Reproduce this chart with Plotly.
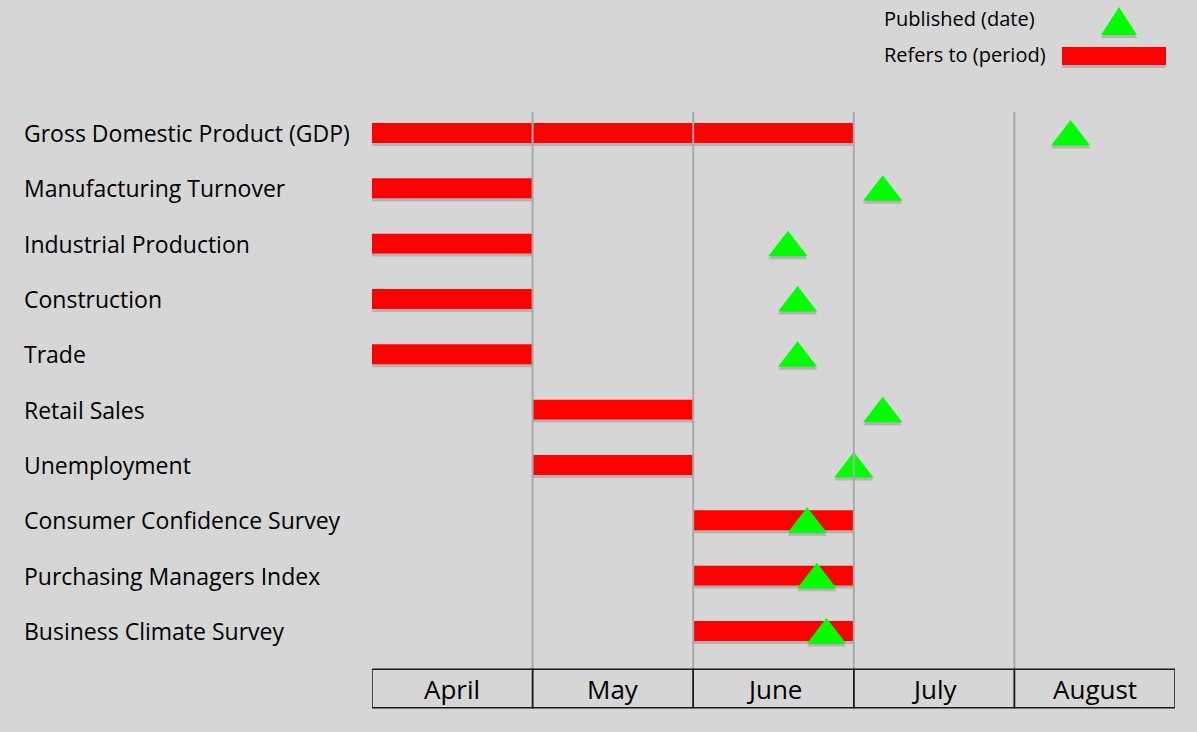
import plotly.graph_objects as go

# ---- data ----
indicators = [
    "Gross Domestic Product (GDP)",
    "Manufacturing Turnover",
    "Industrial Production",
    "Construction",
    "Trade",
    "Retail Sales",
    "Unemployment",
    "Consumer Confidence Survey",
    "Purchasing Managers Index",
    "Business Climate Survey",
]
months = ["April", "May", "June", "July", "August"]
# reference period, in month units (0 = start of April)
period_start = [0, 0, 0, 0, 0, 1, 1, 2, 2, 2]
period_end = [3, 1, 1, 1, 1, 2, 2, 3, 3, 3]
# publication date, in month units (0 = start of April)
published = [4.35, 3.18, 2.59, 2.65, 2.65, 3.18, 3.0, 2.71, 2.77, 2.83]

# ---- layout geometry ----
W, HGT = 1197, 732
ML, MR, MT, MB = 372, 22, 112, 23
PH = HGT - MT - MB  # plot height in px
PW = W - ML - MR
ROW_PX = 55.33
TOP_OFF = 21 / ROW_PX
AX_LEN = PH - 8
RNG = [-TOP_OFF + AX_LEN / ROW_PX, -TOP_OFF]

BG = "#d6d6d6"
RED = "#ff0000"
GREEN = "#00ff00"
SHADOW = "rgba(0,0,0,0.16)"
FONT = "Open Sans"

def dom(shift):
    # vertical domain of a stacked axis moved down by `shift` px
    return [(8 - shift) / PH, 1 - shift / PH]

lengths = [e - s for s, e in zip(period_start, period_end)]

fig = go.Figure()
# bar shadows
fig.add_trace(go.Bar(y=indicators, x=lengths, base=period_start, orientation="h",
                     width=0.36, marker=dict(color=SHADOW, line=dict(width=0)),
                     yaxis="y", xaxis="x", hoverinfo="skip", showlegend=False))
# bars
fig.add_trace(go.Bar(y=indicators, x=lengths, base=period_start, orientation="h",
                     width=0.36, marker=dict(color=RED, line=dict(width=0)),
                     yaxis="y2", xaxis="x", name="Refers to (period)", showlegend=False))
# triangle shadows
fig.add_trace(go.Scatter(y=indicators, x=published, mode="markers",
                         marker=dict(symbol="triangle-up", size=34, color=SHADOW, line=dict(width=0)),
                         yaxis="y3", xaxis="x", hoverinfo="skip", showlegend=False))
# triangles
fig.add_trace(go.Scatter(y=indicators, x=published, mode="markers",
                         marker=dict(symbol="triangle-up", size=34, color=GREEN, line=dict(width=0)),
                         yaxis="y4", xaxis="x", name="Published (date)", showlegend=False))

yax_common = dict(type="category", categoryorder="array", categoryarray=indicators,
                  range=RNG, showgrid=False, zeroline=False, showticklabels=False,
                  showline=False, ticks="", fixedrange=True, anchor="x")

shapes = []
# vertical gridlines
grid_bottom = (PH - (669.3 - MT)) / PH
for i in range(1, len(months)):
    shapes.append(dict(type="line", xref="x", yref="paper", x0=i, x1=i,
                       y0=grid_bottom, y1=1, line=dict(color="#a9a9a9", width=2), layer="above"))
# month boxes
annotations = []
for i, m in enumerate(months):
    shapes.append(dict(type="rect", xref="x", yref="paper", x0=i, x1=i + 1,
                       y0=0.002, y1=grid_bottom, line=dict(color="#1a1a1a", width=1.5),
                       fillcolor="rgba(0,0,0,0)"))
    annotations.append(dict(text=m, xref="x", yref="paper", x=i + 0.5,
                            y=(grid_bottom + 0.002) / 2, showarrow=False,
                            xanchor="center", yanchor="middle",
                            font=dict(family=FONT, size=26, color="#000")))

# row labels
for name in indicators:
    annotations.append(dict(text=name, xref="paper", yref="y2", x=(22 - ML) / PW, y=name,
                            xanchor="left", yanchor="middle", showarrow=False,
                            font=dict(family=FONT, size=23, color="#000")))

# legend (pixel positions converted to paper coords)
def px(xp):
    return (xp - ML) / PW

def py(yp):
    return (MT + PH - yp) / PH

annotations.append(dict(text="Published (date)", xref="paper", yref="paper", x=px(882), y=py(18),
                        xanchor="left", yanchor="middle", showarrow=False,
                        font=dict(family=FONT, size=20, color="#000")))
annotations.append(dict(text="Refers to (period)", xref="paper", yref="paper", x=px(882), y=py(55),
                        xanchor="left", yanchor="middle", showarrow=False,
                        font=dict(family=FONT, size=20, color="#000")))
# legend shadows
shapes.append(dict(type="path", xref="paper", yref="paper",
                   path=f"M {px(1101)} {py(38)} L {px(1137)} {py(38)} L {px(1119)} {py(10)} Z",
                   fillcolor=SHADOW, line=dict(width=0)))
shapes.append(dict(type="rect", xref="paper", yref="paper", x0=px(1062), x1=px(1166),
                   y0=py(68), y1=py(50), fillcolor=SHADOW, line=dict(width=0)))
shapes.append(dict(type="path", xref="paper", yref="paper",
                   path=f"M {px(1101)} {py(35)} L {px(1137)} {py(35)} L {px(1119)} {py(7)} Z",
                   fillcolor=GREEN, line=dict(width=0)))
shapes.append(dict(type="rect", xref="paper", yref="paper", x0=px(1062), x1=px(1166),
                   y0=py(65), y1=py(47), fillcolor=RED, line=dict(width=0)))

fig.update_layout(
    width=W, height=HGT,
    margin=dict(l=ML, r=MR, t=MT, b=MB),
    paper_bgcolor=BG, plot_bgcolor="rgba(0,0,0,0)",
    barmode="overlay",
    showlegend=False,
    xaxis=dict(range=[0, len(months)], showgrid=False, zeroline=False, showticklabels=False,
               showline=False, ticks="", fixedrange=True, anchor="y2"),
    yaxis=dict(domain=dom(3), **yax_common),
    yaxis2=dict(domain=dom(0), **yax_common),
    yaxis3=dict(domain=dom(7), **yax_common),
    yaxis4=dict(domain=dom(4), **yax_common),
    shapes=shapes,
    annotations=annotations,
)

fig.write_html("out.html", config={"displayModeBar": False},
               post_script="document.body.style.margin='0';document.body.style.background='#d6d6d6';document.body.style.overflow='hidden';")
